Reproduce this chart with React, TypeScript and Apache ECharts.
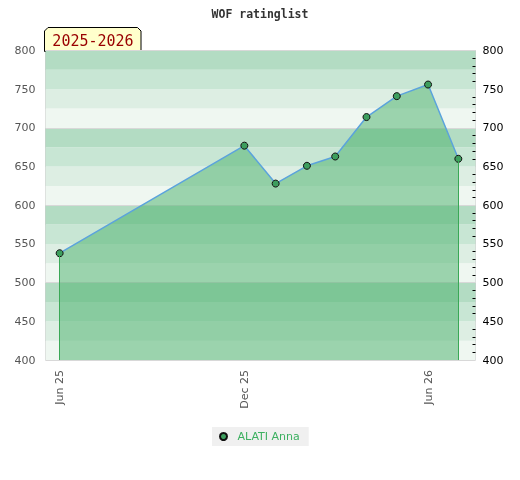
import React, { useEffect, useRef } from "react";
import * as echarts from "echarts";

const dates = ["2025-06-01", "2025-12-01", "2026-01-01", "2026-02-01", "2026-03-01", "2026-04-01", "2026-05-01", "2026-06-01", "2026-07-01"];
const ratings = [538, 677, 628, 651, 663, 714, 741, 756, 660];
const xRange = ["2025-05-18", "2026-07-18"];
const xLabelDates = ["2025-06-01", "2025-12-01", "2026-06-01"];
const yMin = 400;
const yMax = 800;
const seriesName = "ALATI Anna";
const titleText = "WOF ratinglist";
const seasonText = "2025-2026";
const monthNames = ["Jan", "Feb", "Mar", "Apr", "May", "Jun", "Jul", "Aug", "Sep", "Oct", "Nov", "Dec"];
const bandColors = ["#eff7f1", "#ddeee3", "#c8e6d4", "#b3dcc3"];

const ts = (s: string) => {
  const [y, m, d] = s.split("-").map(Number);
  return Date.UTC(y, m - 1, d);
};

export default function App() {
  const ref = useRef<HTMLDivElement>(null);
  useEffect(() => {
    if (!ref.current) return;
    const chart = echarts.init(ref.current, null, { renderer: "svg" });
    const points = dates.map((d, i) => [ts(d), ratings[i]]);
    const first = points[0];
    const last = points[points.length - 1];
    chart.setOption({
      animation: false,
      title: {
        text: titleText,
        left: "center",
        top: 3,
        textStyle: { fontFamily: "DejaVu Sans Mono", fontWeight: "bold", fontSize: 11.5, color: "#333" },
      },
      grid: {
        left: 45.5,
        right: 44.5,
        top: 50.5,
        bottom: 120,
        show: true,
        borderColor: "#cccccc",
        borderWidth: 1,
        backgroundColor: "transparent",
      },
      legend: {
        bottom: 34,
        left: 212,
        backgroundColor: "#f0f0f0",
        padding: [4, 9, 4, 7],
        itemWidth: 18,
        itemHeight: 7,
        icon: "circle",
        textStyle: { color: "#3cb060", fontFamily: "DejaVu Sans", fontSize: 11 },
        data: [seriesName],
      },
      xAxis: {
        type: "value",
        min: ts(xRange[0]),
        max: ts(xRange[1]),
        axisLine: { show: false },
        axisTick: { show: false },
        splitLine: { show: false },
        axisLabel: {
          customValues: xLabelDates.map(ts),
          rotate: 90,
          margin: 10,
          color: "#555",
          fontFamily: "DejaVu Sans",
          fontSize: 11,
          formatter: (v: number) => {
            const d = new Date(v);
            return monthNames[d.getUTCMonth()] + " " + String(d.getUTCFullYear()).slice(2);
          },
        },
      },
      yAxis: [
        {
          type: "value",
          position: "left",
          min: yMin,
          max: yMax,
          interval: 50,
          axisLine: { show: false },
          axisTick: { show: false },
          splitLine: { show: false },
          axisLabel: { color: "#555", fontFamily: "DejaVu Sans", fontSize: 11, margin: 10 },
        },
        {
          type: "value",
          position: "right",
          min: yMin,
          max: yMax,
          interval: 50,
          axisLine: { show: false },
          axisTick: { show: false, inside: true },
          minorTick: { show: true, splitNumber: 5, length: 3, lineStyle: { color: "#000", width: 1 } },
          splitLine: { show: false },
          axisLabel: { color: "#000", fontFamily: "DejaVu Sans", fontSize: 11, margin: 7 },
        },
        {
          type: "value",
          position: "left",
          min: yMin,
          max: yMax,
          interval: 25,
          show: true,
          axisLine: { show: false },
          axisTick: { show: false },
          axisLabel: { show: false },
          splitLine: { show: false },
          splitArea: { show: true, areaStyle: { color: bandColors } },
        },
        {
          type: "value",
          position: "left",
          min: yMin,
          max: yMax,
          interval: 100,
          axisLine: { show: false },
          axisTick: { show: false },
          axisLabel: { show: false },
          splitLine: { show: true, lineStyle: { color: "#d8d8d8", width: 1 } },
        },
      ],
      graphic: [
        {
          type: "group",
          left: 44,
          top: 27,
          z: 100,
          children: [
            {
              type: "polygon",
              shape: { points: [[0, 24], [0, 3.5], [3.5, 0], [93, 0], [96.5, 3.5], [96.5, 24]] },
              style: { fill: "#ffffcc", stroke: "#000", lineWidth: 1 },
            },
            {
              type: "text",
              x: 48.5,
              y: 13.5,
              style: {
                text: seasonText,
                fill: "#990000",
                font: "15px 'DejaVu Sans Mono'",
                align: "center",
                verticalAlign: "middle",
              },
            },
          ],
        },
      ],
      series: [
        {
          name: seriesName,
          type: "line",
          yAxisIndex: 0,
          data: points,
          symbol: "circle",
          symbolSize: 7,
          itemStyle: { color: "#3d9e5e", borderColor: "#111", borderWidth: 1 },
          lineStyle: { color: "#5ba3dc", width: 1.5 },
          areaStyle: { color: "rgb(71,175,105)", opacity: 0.5, origin: "start" },
          markLine: {
            silent: true,
            symbol: "none",
            label: { show: false },
            lineStyle: { color: "#3aa856", width: 1, type: "solid", opacity: 1 },
            data: [
              [{ coord: [first[0], yMin] }, { coord: [first[0], first[1]] }],
              [{ coord: [last[0], yMin] }, { coord: [last[0], last[1]] }],
            ],
          },
        },
      ],
    });
    return () => chart.dispose();
  }, []);
  return <div ref={ref} style={{ position: "fixed", left: 0, top: 0, width: 520, height: 480 }} />;
}
